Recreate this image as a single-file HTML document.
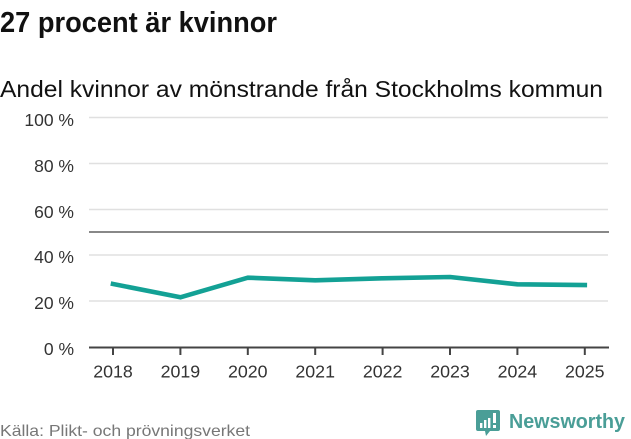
<!DOCTYPE html>
<html>
<head>
<meta charset="utf-8">
<style>
  html, body { margin: 0; padding: 0; background: #fff; }
  body { width: 631px; height: 439px; overflow: hidden; }
  svg { display: block; }
  text { font-family: "Liberation Sans", "DejaVu Sans", sans-serif; }
</style>
</head>
<body>
<svg width="631" height="439" viewBox="0 0 631 439" xmlns="http://www.w3.org/2000/svg">
  <!-- Title -->
  <text x="0" y="32" font-size="29" font-weight="bold" fill="#111" textLength="277" lengthAdjust="spacingAndGlyphs">27 procent är kvinnor</text>
  <!-- Subtitle -->
  <text x="0" y="97" font-size="23" fill="#111" textLength="603" lengthAdjust="spacingAndGlyphs">Andel kvinnor av mönstrande från Stockholms kommun</text>

  <!-- Gridlines -->
  <g stroke="#e0e0e0" stroke-width="1.6">
    <line x1="89" y1="117.5" x2="608" y2="117.5"/>
    <line x1="89" y1="163.5" x2="608" y2="163.5"/>
    <line x1="89" y1="209.5" x2="608" y2="209.5"/>
    <line x1="89" y1="255" x2="608" y2="255"/>
    <line x1="89" y1="301" x2="608" y2="301"/>
  </g>
  <!-- 50% reference line -->
  <line x1="89" y1="232" x2="609" y2="232" stroke="#888" stroke-width="2"/>

  <!-- Y labels -->
  <g font-size="17.5" fill="#333" text-anchor="end">
    <text x="74" y="126">100 %</text>
    <text x="74" y="172">80 %</text>
    <text x="74" y="218">60 %</text>
    <text x="74" y="263">40 %</text>
    <text x="74" y="309">20 %</text>
    <text x="74" y="355">0 %</text>
  </g>

  <!-- X axis -->
  <line x1="89" y1="347.5" x2="609" y2="347.5" stroke="#444" stroke-width="2"/>
  <g stroke="#444" stroke-width="2">
    <line x1="113" y1="348" x2="113" y2="355"/>
    <line x1="180.4" y1="348" x2="180.4" y2="355"/>
    <line x1="247.8" y1="348" x2="247.8" y2="355"/>
    <line x1="315.2" y1="348" x2="315.2" y2="355"/>
    <line x1="382.6" y1="348" x2="382.6" y2="355"/>
    <line x1="450" y1="348" x2="450" y2="355"/>
    <line x1="517.4" y1="348" x2="517.4" y2="355"/>
    <line x1="584.8" y1="348" x2="584.8" y2="355"/>
  </g>
  <g font-size="17.8" fill="#333" text-anchor="middle">
    <text x="113" y="377.7">2018</text>
    <text x="180.4" y="377.7">2019</text>
    <text x="247.8" y="377.7">2020</text>
    <text x="315.2" y="377.7">2021</text>
    <text x="382.6" y="377.7">2022</text>
    <text x="450" y="377.7">2023</text>
    <text x="517.4" y="377.7">2024</text>
    <text x="584.8" y="377.7">2025</text>
  </g>

  <!-- Data line -->
  <polyline fill="none" stroke="#13a195" stroke-width="4.6" stroke-linejoin="round" stroke-linecap="square"
    points="113,284 180.4,297.3 247.8,277.7 315.2,280.3 382.6,278.3 450,277 517.4,284.3 584.8,285"/>

  <!-- Source -->
  <text x="0" y="436" font-size="16" fill="#777" textLength="250" lengthAdjust="spacingAndGlyphs">Källa: Plikt- och prövningsverket</text>

  <!-- Logo -->
  <g>
    <path d="M478,410 h20 a2,2 0 0 1 2,2 v17 a2,2 0 0 1 -2,2 h-8 l-4,5 l-1,-5 h-7 a2,2 0 0 1 -2,-2 v-17 a2,2 0 0 1 2,-2 z" fill="#4a9e97"/>
    <rect x="480" y="423" width="2.4" height="5" fill="#fff"/>
    <rect x="484" y="420" width="2.4" height="8" fill="#fff"/>
    <rect x="488" y="418" width="2.4" height="10" fill="#fff"/>
    <rect x="493" y="413" width="3" height="10" fill="#fff"/>
    <rect x="493" y="425" width="3" height="3" fill="#fff"/>
    <text x="509" y="428" font-size="20.5" font-weight="bold" fill="#4a9e97" textLength="116" lengthAdjust="spacingAndGlyphs">Newsworthy</text>
  </g>
</svg>
</body>
</html>
